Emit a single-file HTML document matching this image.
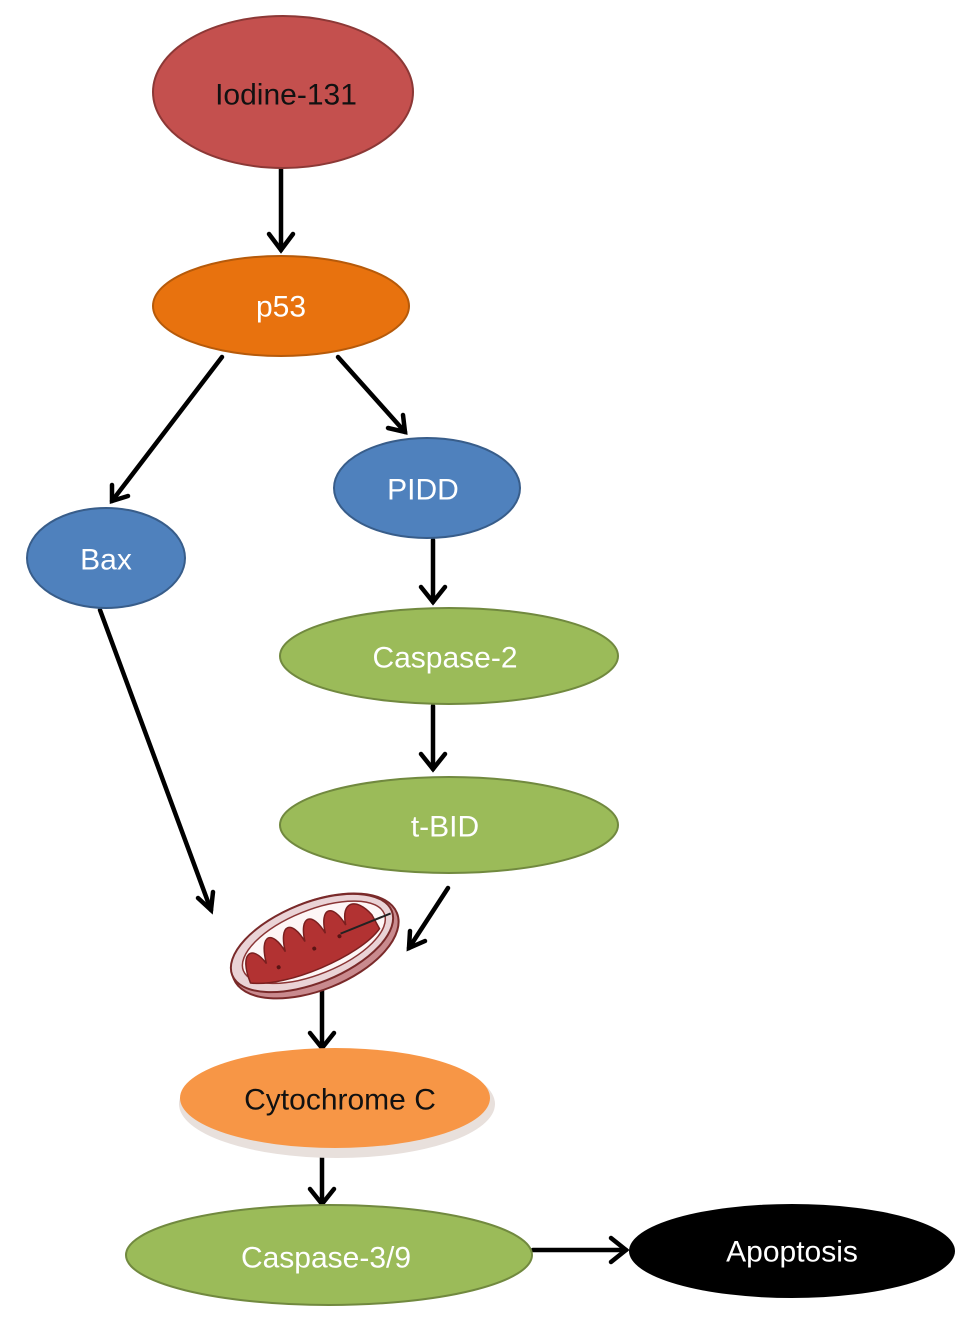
<!DOCTYPE html>
<html><head><meta charset="utf-8"><style>
html,body{margin:0;padding:0;background:#fff;}
svg{display:block;}
text{font-family:"Liberation Sans",Arial,sans-serif;font-size:30px;text-anchor:middle;dominant-baseline:central;}
</style></head><body>
<svg width="969" height="1324" viewBox="0 0 969 1324" xmlns="http://www.w3.org/2000/svg">
<g stroke="#000" stroke-width="4.5" fill="none" stroke-linecap="round">
<line x1="281" y1="162" x2="281" y2="250"/><polyline points="269,234 281,250 293,234"/>
<line x1="222" y1="357" x2="112" y2="501"/><polyline points="112,485 112,501 128,496"/>
<line x1="338" y1="357" x2="405" y2="432"/><polyline points="388,428 405,432 403,415"/>
<line x1="433" y1="540" x2="433" y2="602"/><polyline points="421,587 433,602 445,587"/>
<line x1="433" y1="706" x2="433" y2="769"/><polyline points="421,754 433,769 445,754"/>
<line x1="100" y1="610" x2="211" y2="910"/><polyline points="198,898 211,910 213,892"/>
<line x1="448" y1="888" x2="409" y2="948"/><polyline points="410,931 409,948 425,941"/>
<line x1="322" y1="985" x2="322" y2="1048"/><polyline points="310,1033 322,1048 334,1033"/>
<line x1="322" y1="1140" x2="322" y2="1204"/><polyline points="310,1189 322,1204 334,1189"/>
<line x1="533" y1="1250" x2="626" y2="1250"/><polyline points="611,1238 626,1250 611,1262"/>
</g>
<ellipse cx="283" cy="92" rx="130" ry="76" fill="#c4504e" stroke="#8c3836" stroke-width="2"/>
<text x="286" y="95" fill="#111">Iodine-131</text>
<ellipse cx="281" cy="306" rx="128" ry="50" fill="#e8720e" stroke="#b65a0a" stroke-width="2"/>
<text x="281" y="307" fill="#fff">p53</text>
<ellipse cx="427" cy="488" rx="93" ry="50" fill="#4f81bd" stroke="#385d8a" stroke-width="2"/>
<text x="423" y="490" fill="#fff">PIDD</text>
<ellipse cx="106" cy="558" rx="79" ry="50" fill="#4f81bd" stroke="#385d8a" stroke-width="2"/>
<text x="106" y="560" fill="#fff">Bax</text>
<ellipse cx="449" cy="656" rx="169" ry="48" fill="#9bbb59" stroke="#71893f" stroke-width="2"/>
<text x="445" y="658" fill="#fff">Caspase-2</text>
<ellipse cx="449" cy="825" rx="169" ry="48" fill="#9bbb59" stroke="#71893f" stroke-width="2"/>
<text x="445" y="827" fill="#fff">t-BID</text>
<!-- mitochondrion -->
<g transform="translate(312,943) rotate(-22)">
<ellipse cx="2" cy="4" rx="88" ry="44" fill="#c98a8e" stroke="#7a2a2a" stroke-width="2"/>
<ellipse cx="0" cy="0" rx="86" ry="40" fill="#ead3d6" stroke="#7a2a2a" stroke-width="2"/>
<ellipse cx="2" cy="0" rx="76" ry="32" fill="#fdf6f6" stroke="#8a3535" stroke-width="1.5"/>
<path d="M-72,14 C-72,-18 -56,-22 -50,2 C-46,-28 -32,-28 -28,-2 C-24,-30 -10,-30 -6,-4 C-2,-30 12,-30 16,-4 C20,-30 34,-30 38,-4 C42,-28 58,-26 66,-4 L68,12 C40,30 -40,32 -72,14 Z" fill="#b23232" stroke="#7a1f1f" stroke-width="1.5"/>
<circle cx="-40" cy="10" r="2" fill="#5a1414"/><circle cx="0" cy="6" r="2" fill="#5a1414"/><circle cx="28" cy="4" r="2" fill="#5a1414"/>
<line x1="30" y1="2" x2="84" y2="2" stroke="#222" stroke-width="2"/>
</g>
<ellipse cx="337" cy="1104" rx="158" ry="54" fill="#e8e0dc"/>
<ellipse cx="335" cy="1098" rx="155" ry="50" fill="#f79646"/>
<text x="340" y="1100" fill="#111">Cytochrome C</text>
<ellipse cx="329" cy="1255" rx="203" ry="50" fill="#9bbb59" stroke="#71893f" stroke-width="2"/>
<text x="326" y="1258" fill="#fff">Caspase-3/9</text>
<ellipse cx="792" cy="1251" rx="163" ry="47" fill="#000"/>
<text x="792" y="1252" fill="#fff">Apoptosis</text>
</svg>
</body></html>
